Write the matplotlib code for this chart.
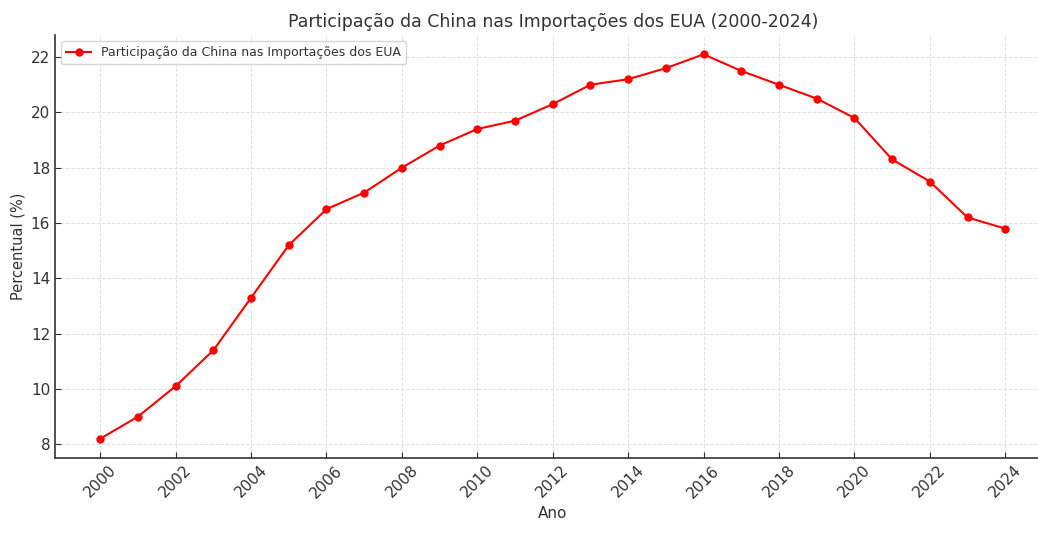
import matplotlib
matplotlib.use("Agg")
import matplotlib.pyplot as plt

# Data
anos = [2000, 2001, 2002, 2003, 2004, 2005, 2006, 2007, 2008, 2009, 2010, 2011, 2012,
        2013, 2014, 2015, 2016, 2017, 2018, 2019, 2020, 2021, 2022, 2023, 2024]
participacao = [8.2, 9.0, 10.1, 11.4, 13.3, 15.2, 16.5, 17.1, 18.0, 18.8, 19.4, 19.7, 20.3,
                21.0, 21.2, 21.6, 22.1, 21.5, 21.0, 20.5, 19.8, 18.3, 17.5, 16.2, 15.8]
xticks = list(range(2000, 2025, 2))

text_color = "#333333"

fig = plt.figure(figsize=(10.38, 5.4), dpi=100)
# axes runs a bit past the right edge, like the cropped original
ax = fig.add_axes([0.053, 0.152, 0.959, 0.783])

ax.plot(anos, participacao, color="red", marker="o", markersize=5, linewidth=1.5,
        label="Participação da China nas Importações dos EUA")

ax.set_title("Participação da China nas Importações dos EUA (2000-2024)",
             fontsize=12.5, color=text_color)
ax.set_xlabel("Ano", fontsize=11, color=text_color)
ax.set_ylabel("Percentual (%)", fontsize=10.5, color=text_color)
ax.set_xticks(xticks)
ax.tick_params(axis="x", rotation=45)
ax.tick_params(direction="in", labelsize=11, colors=text_color, length=4)

ax.grid(True, linestyle="--", color="#e0e0e0", linewidth=0.7)
for s in ["top", "right"]:
    ax.spines[s].set_visible(False)
for s in ["left", "bottom"]:
    ax.spines[s].set_color(text_color)
    ax.spines[s].set_linewidth(1.2)

leg = ax.legend(loc="upper left", fontsize=9, labelcolor=text_color)

fig.savefig("out.png", dpi=100, facecolor="white")
